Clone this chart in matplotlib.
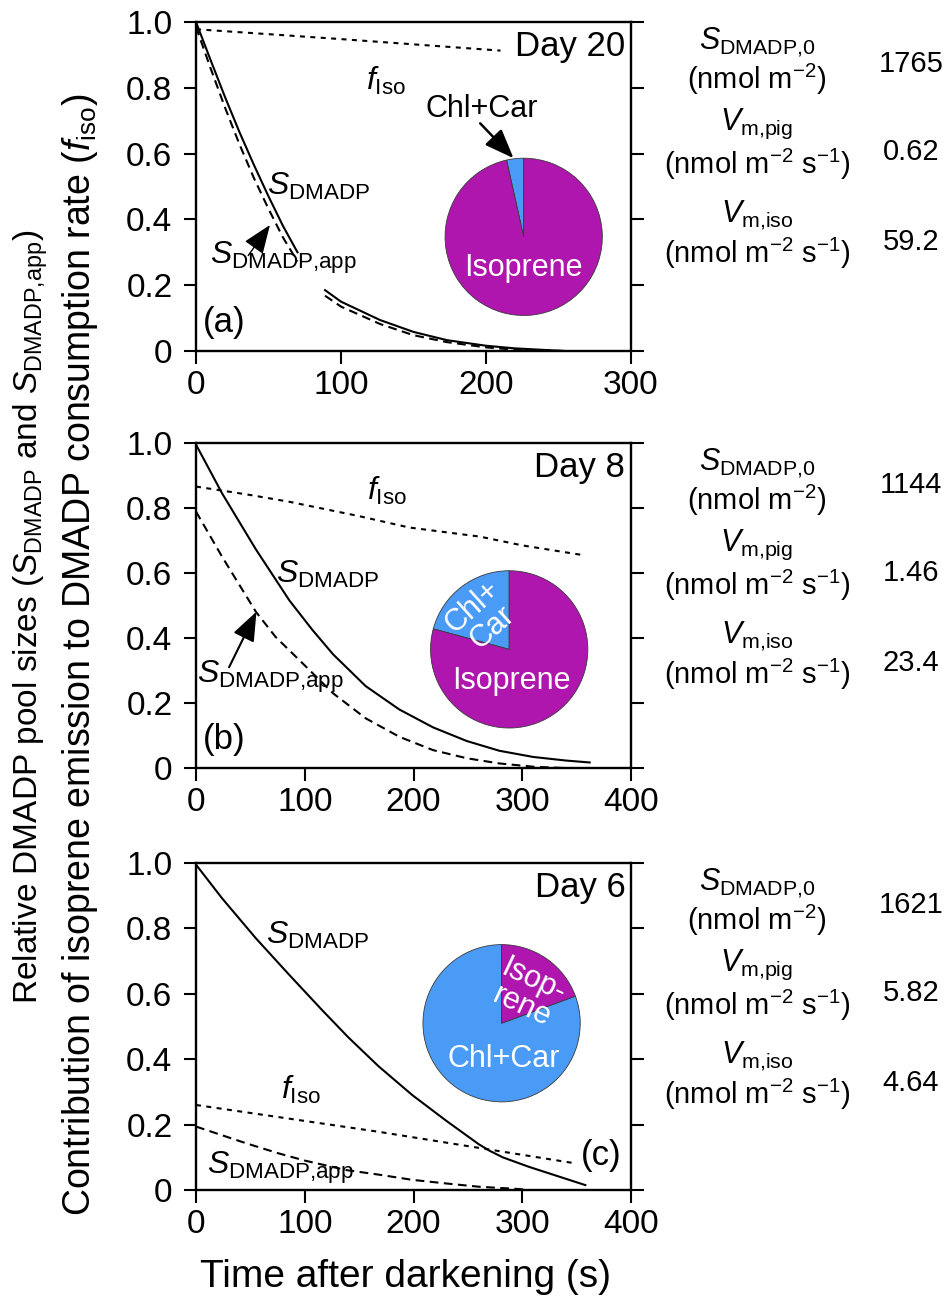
import numpy as np
import matplotlib
matplotlib.use("Agg")
import matplotlib.pyplot as plt

plt.rcParams["font.family"] = "Liberation Sans"
plt.rcParams["mathtext.fontset"] = "custom"
plt.rcParams["mathtext.rm"] = "Liberation Sans"
plt.rcParams["mathtext.it"] = "Liberation Sans:italic"
plt.rcParams["mathtext.bf"] = "Liberation Sans:bold"

nan = np.nan

# ---- data ---------------------------------------------------------------
days = ["Day 20", "Day 8", "Day 6"]
tags = ["(a)", "(b)", "(c)"]
xmax = [300, 400, 400]

# (a) Day 20 -- gap in the curves where the label sits
t_a = [0, 10, 20, 30, 40, 50, 60, 70, nan, 89, 100, 127, 150, 173, 200, 220, 254]
s_a = [1.0, 0.885, 0.772, 0.665, 0.565, 0.47, 0.38, 0.30, nan,
       0.185, 0.15, 0.094, 0.058, 0.033, 0.016, 0.008, 0.0]
app_a = [0.985, 0.86, 0.74, 0.628, 0.525, 0.432, 0.345, 0.272, nan,
         0.168, 0.135, 0.082, 0.048, 0.027, 0.011, 0.004, 0.0]
tf_a = [0, 100, 210]
f_a = [0.978, 0.948, 0.913]

# (b) Day 8
t_b = [0, 24, 55, 86, 107, 126, 156, 187, 218, 249, 279, 310, 340, 362]
s_b = [0.995, 0.845, 0.673, 0.515, 0.425, 0.35, 0.252, 0.18, 0.125, 0.083,
       0.053, 0.034, 0.023, 0.017]
tapp_b = [0, 24, 55, 73, 95, 126, 156, 187, 218, 249, 279, 310, 338]
app_b = [0.789, 0.65, 0.481, 0.404, 0.332, 0.23, 0.153, 0.096, 0.055, 0.03,
         0.014, 0.004, 0.0]
tf_b = [0, 50, 86, 150, 196, 261, 300, 356]
f_b = [0.866, 0.84, 0.819, 0.775, 0.74, 0.712, 0.685, 0.655]

# (c) Day 6
t_c = [0, 24, 55, 86, 116, 140, 168, 199, 230, 260, 270, 282, 306, 358]
s_c = [0.995, 0.892, 0.77, 0.657, 0.55, 0.467, 0.378, 0.29, 0.212, 0.14,
       0.12, 0.1, 0.071, 0.015]
tapp_c = [0, 46, 76, 100, 138, 168, 199, 230, 260, 297, 306]
app_c = [0.194, 0.143, 0.112, 0.09, 0.061, 0.047, 0.031, 0.02, 0.01, 0.003, 0.0]
tf_c = [0, 168, 346]
f_c = [0.26, 0.178, 0.083]

# pie: share of DMADP consumption by Chl+Car (rest = isoprene)
chl_car = [0.035, 0.208, 0.806]

s0 = ["1765", "1144", "1621"]
vpig = ["0.62", "1.46", "5.82"]
viso = ["59.2", "23.4", "4.64"]

PURPLE = "#AE16AE"
BLUE = "#4A9BF5"

# ---- layout (pixels of a 950x1307 canvas) -------------------------------
W, H = 950, 1307
AX_L, AX_R = 196, 631
PANELS = [(22, 351), (443, 768), (863, 1190)]
PIE_R = 81

fig = plt.figure(figsize=(W / 100, H / 100), dpi=100)

series = [
    (t_a, s_a, t_a, app_a, tf_a, f_a),
    (t_b, s_b, tapp_b, app_b, tf_b, f_b),
    (t_c, s_c, tapp_c, app_c, tf_c, f_c),
]

# label positions (data coords) per panel
lab_s = [(49, 0.50), (74, 0.597), (64, 0.777)]
lab_app = [(10, 0.283), (1, 0.28), (10, 0.067)]
lab_f = [(117, 0.82), (157, 0.854), (78, 0.306)]
pie_c = [(226, 0.347), (288, 0.365), (281, 0.51)]

arrow = dict(arrowstyle="-|>,head_length=0.9,head_width=0.35", color="k",
             lw=1.0, mutation_scale=20, shrinkA=0, shrinkB=0)
arrow_bold = dict(arrow, lw=1.8)

for i, (top, bot) in enumerate(PANELS):
    ax = fig.add_axes([AX_L / W, 1 - bot / H, (AX_R - AX_L) / W, (bot - top) / H])
    ts, ss, tp, sp, tf, ff = series[i]
    ax.plot(ts, ss, color="k", lw=1.5)
    ax.plot(tp, sp, color="k", lw=1.5, dashes=(4.2, 2.6))
    ax.plot(tf, ff, color="k", lw=1.5, dashes=(2.4, 2.6))

    ax.set_xlim(0, xmax[i])
    ax.set_ylim(0, 1.0)
    ax.set_xticks(np.arange(0, xmax[i] + 1, 100))
    ax.set_yticks([0, 0.2, 0.4, 0.6, 0.8, 1.0])
    ax.set_yticklabels(["0", "0.2", "0.4", "0.6", "0.8", "1.0"])
    ax.tick_params(direction="out", length=9, width=1.5, labelsize=24,
                   right=True, top=False)
    ax.tick_params(axis="y", pad=8)
    ax.tick_params(axis="x", pad=5)
    for sp_ in ax.spines.values():
        sp_.set_linewidth(1.7)

    ax.text(xmax[i] * 0.987, 0.925, days[i], fontsize=25, ha="right", va="center")
    if i < 2:
        ax.text(xmax[i] * 0.015, 0.088, tags[i], fontsize=25, ha="left", va="center")
    else:
        ax.text(391, 0.104, tags[i], fontsize=25, ha="right", va="center")

    ax.text(*lab_s[i], r"$S_\mathrm{DMADP}$", fontsize=23, ha="left", va="center")
    ax.text(*lab_app[i], r"$S_\mathrm{DMADP{,}app}$", fontsize=23, ha="left", va="center")
    ax.text(*lab_f[i], r"$f_\mathrm{Iso}$", fontsize=23, ha="left", va="center")

    if i == 0:
        ax.annotate("", xy=(51, 0.383), xytext=(36, 0.29), arrowprops=arrow)
        ax.text(197, 0.737, "Chl+Car", fontsize=22, ha="center", va="center")
        ax.annotate("", xy=(219, 0.586), xytext=(196, 0.692), arrowprops=arrow_bold)
    elif i == 1:
        ax.annotate("", xy=(55.6, 0.481), xytext=(30.4, 0.31),
                    arrowprops=dict(arrow, lw=1.5))

    # pie inset
    cx, cy = ax.transData.transform(pie_c[i])
    pax = fig.add_axes([(cx - PIE_R) / W, (cy - PIE_R) / H, 2 * PIE_R / W, 2 * PIE_R / H])
    pax.pie([chl_car[i], 1 - chl_car[i]], colors=[BLUE, PURPLE], startangle=90,
            counterclock=True, radius=1,
            wedgeprops=dict(edgecolor="#3a3a3a", linewidth=0.6))
    pax.set_xlim(-1.03, 1.03)
    pax.set_ylim(-1.03, 1.03)
    pax.set_aspect("equal")
    pax.axis("off")
    if i == 0:
        pax.text(0, -0.39, "Isoprene", color="white", fontsize=22, ha="center", va="center")
    elif i == 1:
        pax.text(0.03, -0.40, "Isoprene", color="white", fontsize=22, ha="center", va="center")
        pax.text(-0.34, 0.41, "Chl+\nCar", color="white", fontsize=22, ha="center",
                 va="center", rotation=42, linespacing=0.95, rotation_mode="anchor")
    else:
        pax.text(0.03, -0.46, "Chl+Car", color="white", fontsize=22, ha="center", va="center")
        pax.text(0.33, 0.375, "Isop-\nrene", color="white", fontsize=22, ha="center",
                 va="center", rotation=-25, linespacing=0.95, rotation_mode="anchor")

    # parameter column on the right
    def fy(p):
        return 1 - (top + p) / H
    lx, vx = 757 / W, 911 / W
    fig.text(lx, fy(20), r"$S_\mathrm{DMADP{,}0}$", fontsize=22, ha="center", va="center")
    fig.text(lx, fy(57), r"(nmol m$^{-2}$)", fontsize=21, ha="center", va="center")
    fig.text(vx, fy(42), s0[i], fontsize=21, ha="center", va="center")
    fig.text(lx, fy(102), r"$V_\mathrm{m{,}pig}$", fontsize=22, ha="center", va="center")
    fig.text(lx, fy(142), r"(nmol m$^{-2}$ s$^{-1}$)", fontsize=21, ha="center", va="center")
    fig.text(vx, fy(130), vpig[i], fontsize=21, ha="center", va="center")
    fig.text(lx, fy(193), r"$V_\mathrm{m{,}iso}$", fontsize=22, ha="center", va="center")
    fig.text(lx, fy(231), r"(nmol m$^{-2}$ s$^{-1}$)", fontsize=21, ha="center", va="center")
    fig.text(vx, fy(220), viso[i], fontsize=21, ha="center", va="center")

fig.text(31 / W, 1 - 617 / H,
         r"Relative DMADP pool sizes ($S_\mathrm{DMADP}$ and $S_\mathrm{DMADP{,}app}$)",
         fontsize=24, rotation=90, ha="center", va="center")
fig.text(80 / W, 1 - 655 / H,
         r"Contribution of isoprene emission to DMADP consumption rate ($f_\mathrm{iso}$)",
         fontsize=27, rotation=90, ha="center", va="center")
fig.text(405 / W, 1 - 1277 / H, "Time after darkening (s)", fontsize=28,
         ha="center", va="center")

fig.savefig("out.png", dpi=100)
